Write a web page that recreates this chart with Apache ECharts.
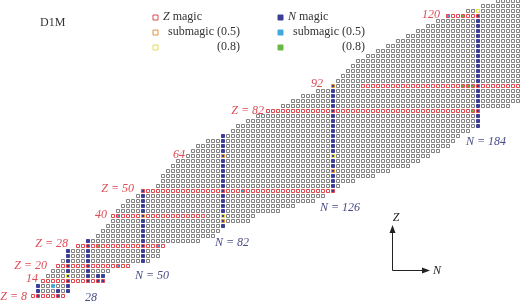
<!DOCTYPE html>
<html>
<head>
<meta charset="utf-8">
<script src="https://cdn.jsdelivr.net/npm/echarts@6/dist/echarts.min.js"></script>
<style>
  html, body { margin: 0; padding: 0; background: #fff; }
  #chart { width: 520px; height: 304px; }
</style>
</head>
<body>
<div id="chart"></div>
<script>
// rows of even-even nuclei: proton number and first / last neutron number
const zRows = [8, 10, 12, 14, 16, 18, 20, 22, 24, 26, 28, 30, 32, 34, 36, 38, 40, 42, 44, 46,
  48, 50, 52, 54, 56, 58, 60, 62, 64, 66, 68, 70, 72, 74, 76, 78, 80, 82, 84, 86,
  88, 90, 92, 94, 96, 98, 100, 102, 104, 106, 108, 110, 112, 114, 116, 118, 120, 122, 124, 126];
const nMin = [6, 8, 8, 10, 12, 14, 16, 18, 20, 20, 24, 28, 32, 34, 36, 38, 38, 40, 42, 44,
  48, 50, 56, 58, 58, 60, 62, 64, 68, 70, 72, 76, 82, 86, 88, 92, 96, 100, 106, 110,
  114, 120, 126, 128, 130, 132, 134, 136, 140, 144, 148, 152, 156, 160, 164, 168, 172, 180, 186, 192];
const nMax = [18, 20, 20, 34, 34, 36, 44, 52, 56, 56, 58, 72, 78, 80, 82, 92, 94, 104, 110, 118,
  122, 126, 128, 134, 142, 148, 156, 160, 164, 168, 172, 174, 176, 180, 184, 184, 184, 184, 196, 200,
  200, 200, 200, 200, 200, 200, 200, 200, 200, 200, 200, 200, 200, 200, 200, 200, 200, 200, 200, 200];

// Z magic: [Z, N from, N to]
const zMagic = [[8, 0, 40], [14, 0, 40], [20, 0, 60], [28, 0, 60], [40, 38, 48], [40, 52, 74],
  [50, 0, 130], [82, 0, 190], [92, 138, 200], [120, 172, 184]];
// N magic: [N, Z from, Z to]
const nMagic = [[8, 8, 12], [16, 8, 10], [20, 10, 26], [28, 14, 30], [32, 14, 16], [34, 14, 16],
  [50, 22, 50], [82, 36, 72], [126, 50, 92], [184, 76, 120]];
// submagic cells [N, Z]
const zSub05 = [[126, 92], [82, 64], [50, 40], [126, 58], [82, 38]];
const zSub08 = [[20, 16], [82, 40], [126, 64], [184, 122]];
const nSub05 = [[14, 12], [40, 40], [56, 28], [40, 20], [90, 50], [172, 120]];
const nSub08 = [[32, 28], [178, 92], [180, 92], [182, 92], [182, 82], [178, 120]];

const GRAY = '#808080', RED = '#e2474d', ORANGE = '#e3923a', YELLOW = '#e4df4c';
const BLUE = '#3b3f98', LBLUE = '#43a8de', GREEN = '#6cb646';

function has(list, n, z) {
  return list.some(function (p) { return p[0] === n && p[1] === z; });
}

const cells = [];
zRows.forEach(function (z, i) {
  for (let n = nMin[i]; n <= nMax[i]; n += 2) {
    let border = null, fill = null;
    if (has(zSub05, n, z)) border = ORANGE;
    else if (has(zSub08, n, z)) border = YELLOW;
    else if (zMagic.some(function (r) { return r[0] === z && n >= r[1] && n <= r[2]; })) border = RED;
    if (has(nSub05, n, z)) fill = LBLUE;
    else if (has(nSub08, n, z)) fill = GREEN;
    else if (nMagic.some(function (c) { return c[0] === n && z >= c[1] && z <= c[2]; })) fill = BLUE;
    cells.push({
      value: [n, z],
      itemStyle: {
        color: fill || '#fff',
        borderColor: border || fill || GRAY
      }
    });
  }
});

const serif = '"Liberation Serif", "DejaVu Serif", serif';
function txt(x, y, text, color, align, italic) {
  return {
    type: 'text', x: x, y: y, z: 10,
    style: {
      text: text, fill: color, textAlign: align, textVerticalAlign: 'middle',
      font: (italic ? 'italic ' : '') + '12px ' + serif
    }
  };
}
function box(x, y, stroke, fill) {
  return {
    type: 'rect', z: 10,
    shape: { x: x - 2.5, y: y - 2.5, width: 5, height: 5 },
    style: { fill: fill, stroke: stroke, lineWidth: 1 }
  };
}

const zLabels = [[27, 297, 'Z = 8'], [38, 279, '14'], [47, 266, 'Z = 20'], [68, 244, 'Z = 28'],
  [107, 215, '40'], [134, 189, 'Z = 50'], [185, 155, '64'], [264, 111, 'Z = 82'],
  [323, 84, '92'], [440, 15, '120']];
const nLabels = [[85, 298, '28'], [135, 276, 'N = 50'], [215, 243, 'N = 82'],
  [320, 208, 'N = 126'], [466, 142, 'N = 184']];

const graphics = [txt(40, 23, 'D1M', '#333', 'left', false)];
zLabels.forEach(function (l) { graphics.push(txt(l[0], l[1], l[2], '#dc4a55', 'right', true)); });
nLabels.forEach(function (l) { graphics.push(txt(l[0], l[1], l[2], '#484b86', 'left', true)); });

// legend
graphics.push(box(155.5, 17.5, RED, '#fff'), box(155.5, 32.5, ORANGE, '#fff'), box(155.5, 47.5, YELLOW, '#fff'));
graphics.push(box(280.5, 17.5, BLUE, BLUE), box(280.5, 32.5, LBLUE, LBLUE), box(280.5, 47.5, GREEN, GREEN));
graphics.push({
  type: 'text', x: 163, y: 17, z: 10,
  style: {
    text: '{i|Z} magic', fill: '#333', textVerticalAlign: 'middle', font: '12px ' + serif,
    rich: { i: { fontStyle: 'italic', fontFamily: serif, fontSize: 12, fill: '#333' } }
  }
});
graphics.push({
  type: 'text', x: 288, y: 17, z: 10,
  style: {
    text: '{i|N} magic', fill: '#333', textVerticalAlign: 'middle', font: '12px ' + serif,
    rich: { i: { fontStyle: 'italic', fontFamily: serif, fontSize: 12, fill: '#333' } }
  }
});
graphics.push(txt(240, 32, 'submagic (0.5)', '#333', 'right', false), txt(240, 47, '(0.8)', '#333', 'right', false));
graphics.push(txt(365, 32, 'submagic (0.5)', '#333', 'right', false), txt(365, 47, '(0.8)', '#333', 'right', false));

// Z / N direction arrows
graphics.push({
  type: 'polyline', z: 10,
  shape: { points: [[392.5, 231], [392.5, 270.5], [424, 270.5]] },
  style: { stroke: '#222', lineWidth: 1, fill: null }
});
graphics.push({ type: 'polygon', z: 10, shape: { points: [[392.5, 225], [389.5, 233], [395.5, 233]] }, style: { fill: '#222' } });
graphics.push({ type: 'polygon', z: 10, shape: { points: [[430, 270.5], [422, 267.5], [422, 273.5]] }, style: { fill: '#222' } });
graphics.push(txt(396, 218, 'Z', '#222', 'center', true), txt(433, 271, 'N', '#222', 'left', true));

const chart = echarts.init(document.getElementById('chart'));
chart.setOption({
  animation: false,
  backgroundColor: '#fff',
  grid: { left: 0, right: 0, top: 0, bottom: 0 },
  xAxis: { type: 'value', min: -7.2, max: 200.8, show: false },
  yAxis: { type: 'value', min: 4.8, max: 126.4, show: false },
  series: [{
    type: 'scatter',
    symbol: 'rect',
    symbolSize: 3,
    progressive: 0,
    itemStyle: { borderWidth: 1, opacity: 1 },
    emphasis: { disabled: true },
    data: cells
  }],
  graphic: graphics
});
</script>
</body>
</html>
